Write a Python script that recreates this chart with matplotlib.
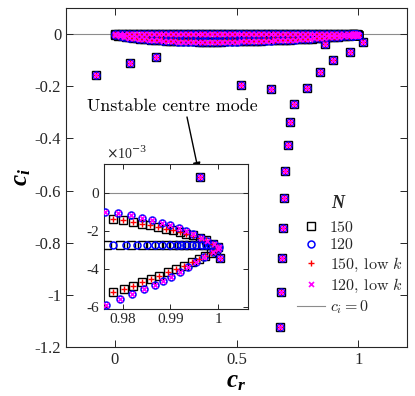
import matplotlib
matplotlib.use('Agg')
import numpy as np
import matplotlib.pyplot as plt
from matplotlib.ticker import FuncFormatter, FixedLocator

plt.rcParams['font.family'] = ['Liberation Serif', 'DejaVu Serif']
plt.rcParams['mathtext.fontset'] = 'cm'
plt.rcParams['mathtext.it'] = 'Liberation Serif:italic:bold'
plt.rcParams['mathtext.rm'] = 'Liberation Serif:bold'
plt.rcParams['mathtext.bf'] = 'Liberation Serif:bold'
plt.rcParams['axes.unicode_minus'] = False

# ---------------- data ----------------
# discrete modes (all four computations coincide)
disc_cr = [-0.076, 0.062, 0.169, 0.520, 0.643, 0.790, 0.737, 0.719, 0.710, 0.700,
           0.696, 0.690, 0.686, 0.682, 0.679, 0.844, 0.898, 0.966, 1.019, 0.864,
           0.9961, 1.0003]
disc_ci = [-0.156, -0.111, -0.088, -0.194, -0.211, -0.207, -0.267, -0.339, -0.425, -0.524,
           -0.630, -0.742, -0.860, -0.989, -1.124, -0.147, -0.101, -0.067, -0.029, -0.039,
           0.00084, -0.00345]

# continuous spectrum, N = 150
band150_cr = [0.000, 0.015, 0.030, 0.045, 0.060, 0.075, 0.090, 0.105, 0.120, 0.135,
              0.150, 0.165, 0.180, 0.195, 0.210, 0.225, 0.240, 0.255, 0.270, 0.285,
              0.300, 0.315, 0.330, 0.345, 0.360, 0.375, 0.390, 0.405, 0.420, 0.435,
              0.450, 0.465, 0.480, 0.495, 0.510, 0.525, 0.540, 0.555, 0.570, 0.585,
              0.600, 0.615, 0.630, 0.645, 0.660, 0.675, 0.690, 0.705, 0.720, 0.735,
              0.750, 0.765, 0.780, 0.795, 0.810, 0.825, 0.840, 0.855, 0.870, 0.885,
              0.900, 0.915, 0.930, 0.945, 0.960]
bandup150_ci = [-0.0004, -0.0004, -0.0004, -0.0005, -0.0005, -0.0005, -0.0005, -0.0006, -0.0006, -0.0006,
                -0.0006, -0.0006, -0.0007, -0.0007, -0.0007, -0.0007, -0.0007, -0.0007, -0.0008, -0.0008,
                -0.0008, -0.0008, -0.0008, -0.0008, -0.0008, -0.0009, -0.0009, -0.0009, -0.0009, -0.0009,
                -0.0009, -0.0009, -0.0010, -0.0010, -0.0010, -0.0010, -0.0010, -0.0010, -0.0010, -0.0010,
                -0.0011, -0.0011, -0.0011, -0.0011, -0.0011, -0.0011, -0.0011, -0.0011, -0.0012, -0.0012,
                -0.0012, -0.0012, -0.0012, -0.0012, -0.0012, -0.0012, -0.0012, -0.0013, -0.0013, -0.0013,
                -0.0013, -0.0013, -0.0013, -0.0013, -0.0013]
bandlo150_ci = [-0.0030, -0.0055, -0.0080, -0.0100, -0.0120, -0.0140, -0.0160, -0.0175, -0.0190, -0.0200,
                -0.0210, -0.0220, -0.0230, -0.0240, -0.0250, -0.0255, -0.0260, -0.0265, -0.0270, -0.0275,
                -0.0280, -0.0280, -0.0280, -0.0285, -0.0290, -0.0290, -0.0290, -0.0290, -0.0290, -0.0285,
                -0.0280, -0.0280, -0.0280, -0.0275, -0.0270, -0.0270, -0.0270, -0.0265, -0.0260, -0.0255,
                -0.0250, -0.0245, -0.0240, -0.0235, -0.0230, -0.0225, -0.0220, -0.0215, -0.0210, -0.0205,
                -0.0200, -0.0195, -0.0190, -0.0180, -0.0170, -0.0160, -0.0150, -0.0140, -0.0130, -0.0120,
                -0.0110, -0.0100, -0.0090, -0.0080, -0.0070]
near_up150_cr = [0.9780, 0.9801, 0.9821, 0.9840, 0.9857, 0.9874, 0.9890, 0.9905, 0.9919, 0.9933,
                 0.9947, 0.9961, 0.9975, 0.9989, 0.9999]
near_up150_ci = [-0.00137, -0.00146, -0.00155, -0.00163, -0.00172, -0.00181, -0.00190, -0.00199,
                 -0.00208, -0.00216, -0.00225, -0.00238, -0.00252, -0.00269, -0.00284]
near_lo150_cr = [0.9780, 0.9802, 0.9821, 0.9841, 0.9860, 0.9877, 0.9895, 0.9911, 0.9928, 0.9945,
                 0.9960, 0.9973, 0.9985, 0.9996]
near_lo150_ci = [-0.00521, -0.00508, -0.00491, -0.00473, -0.00455, -0.00438, -0.00420, -0.00403,
                 -0.00386, -0.00368, -0.00350, -0.00333, -0.00317, -0.00303]
mid150_cr = [0.15, 0.20, 0.25, 0.30, 0.35, 0.40, 0.45, 0.50, 0.55, 0.60, 0.65, 0.70, 0.75,
             0.80, 0.85, 0.90, 0.95,
             0.9767, 0.9794, 0.9818, 0.9840, 0.9859, 0.9876, 0.9891, 0.9906, 0.9918, 0.9928,
             0.9939, 0.9949, 0.9959, 0.9969, 0.9978, 0.9986]
mid150_ci = [-0.0028, -0.0028, -0.0028, -0.0028, -0.0028, -0.0028, -0.0028, -0.0028, -0.0028,
             -0.0028, -0.0028, -0.0028, -0.0028, -0.0028, -0.0028, -0.0028, -0.0028,
             -0.00278, -0.00278, -0.00278, -0.00278, -0.00278, -0.00278, -0.00278, -0.00278,
             -0.00278, -0.00278, -0.00278, -0.00278, -0.00278, -0.00278, -0.00278, -0.00278]

# continuous spectrum, N = 120
band120_cr = [0.00, 0.02, 0.04, 0.06, 0.08, 0.10, 0.12, 0.14, 0.16, 0.18,
              0.20, 0.22, 0.24, 0.26, 0.28, 0.30, 0.32, 0.34, 0.36, 0.38,
              0.40, 0.42, 0.44, 0.46, 0.48, 0.50, 0.52, 0.54, 0.56, 0.58,
              0.60, 0.62, 0.64, 0.66, 0.68, 0.70, 0.72, 0.74, 0.76, 0.78,
              0.80, 0.82, 0.84, 0.86, 0.88, 0.90, 0.92, 0.94, 0.96]
bandup120_ci = [-0.0004, -0.0004, -0.0005, -0.0005, -0.0006, -0.0006, -0.0006, -0.0007, -0.0007, -0.0007,
                -0.0007, -0.0008, -0.0008, -0.0008, -0.0008, -0.0008, -0.0009, -0.0009, -0.0009, -0.0009,
                -0.0009, -0.0009, -0.0009, -0.0010, -0.0010, -0.0010, -0.0010, -0.0010, -0.0010, -0.0010,
                -0.0010, -0.0010, -0.0010, -0.0010, -0.0010, -0.0010, -0.0010, -0.0010, -0.0010, -0.0010,
                -0.0010, -0.0010, -0.0010, -0.0010, -0.0010, -0.0010, -0.0010, -0.0010, -0.0010]
bandlo120_ci = [-0.0040, -0.0080, -0.0110, -0.0140, -0.0160, -0.0180, -0.0200, -0.0215, -0.0230, -0.0245,
                -0.0260, -0.0270, -0.0280, -0.0285, -0.0290, -0.0295, -0.0300, -0.0300, -0.0300, -0.0300,
                -0.0300, -0.0295, -0.0290, -0.0290, -0.0290, -0.0285, -0.0280, -0.0275, -0.0270, -0.0265,
                -0.0260, -0.0255, -0.0250, -0.0240, -0.0230, -0.0225, -0.0220, -0.0210, -0.0200, -0.0190,
                -0.0180, -0.0165, -0.0150, -0.0135, -0.0120, -0.0110, -0.0100, -0.0085, -0.0070]
near_up120_cr = [0.9763, 0.9791, 0.9817, 0.9841, 0.9862, 0.9882, 0.9899, 0.9917, 0.9932, 0.9948,
                 0.9964, 0.9977, 0.9991, 1.0001]
near_up120_ci = [-0.00102, -0.00110, -0.00119, -0.00132, -0.00146, -0.00158, -0.00172, -0.00187,
                 -0.00203, -0.00220, -0.00238, -0.00256, -0.00273, -0.00284]
near_lo120_cr = [0.9765, 0.9794, 0.9819, 0.9844, 0.9867, 0.9885, 0.9902, 0.9919, 0.9937, 0.9954,
                 0.9971, 0.9989, 0.9999]
near_lo120_ci = [-0.00592, -0.00561, -0.00535, -0.00508, -0.00485, -0.00464, -0.00443, -0.00420,
                 -0.00394, -0.00367, -0.00341, -0.00314, -0.00296]
mid120_cr = [0.17, 0.22, 0.27, 0.32, 0.37, 0.42, 0.47, 0.52, 0.57, 0.62, 0.67, 0.72, 0.77,
             0.82, 0.87, 0.92,
             0.9779, 0.9808, 0.9829, 0.9850, 0.9867, 0.9883, 0.9899, 0.9913, 0.9923, 0.9933,
             0.9944, 0.9954, 0.9965, 0.9974, 0.9982]
mid120_ci = [-0.0028, -0.0028, -0.0028, -0.0028, -0.0028, -0.0028, -0.0028, -0.0028, -0.0028,
             -0.0028, -0.0028, -0.0028, -0.0028, -0.0028, -0.0028, -0.0028,
             -0.00278, -0.00278, -0.00278, -0.00278, -0.00278, -0.00278, -0.00278, -0.00278,
             -0.00278, -0.00278, -0.00278, -0.00278, -0.00278, -0.00278, -0.00278]

ref_ci = 0.0
series_labels = ['150', '120', '150, low $k$', '120, low $k$']
line_label = '$c_i = 0$'
legend_title = '$N$'
main_xticks = [0, 0.5, 1]
main_yticks = [-1.2, -1, -0.8, -0.6, -0.4, -0.2, 0]
inset_xticks = [0.98, 0.99, 1.0]
inset_yticks = [-0.006, -0.004, -0.002, 0.0]

# ---------------- series assembly ----------------
up150_cr = band150_cr + near_up150_cr
up150_ci = bandup150_ci + near_up150_ci
lo150_cr = band150_cr + near_lo150_cr
lo150_ci = bandlo150_ci + near_lo150_ci
up120_cr = band120_cr + near_up120_cr
up120_ci = bandup120_ci + near_up120_ci
lo120_cr = band120_cr + near_lo120_cr
lo120_ci = bandlo120_ci + near_lo120_ci

s150_cr = disc_cr + up150_cr + lo150_cr + mid150_cr
s150_ci = disc_ci + up150_ci + lo150_ci + mid150_ci
s120_cr = disc_cr + up120_cr + lo120_cr + mid120_cr
s120_ci = disc_ci + up120_ci + lo120_ci + mid120_ci
k150_cr = disc_cr + up150_cr + lo150_cr
k150_ci = disc_ci + up150_ci + lo150_ci
k120_cr = disc_cr + up120_cr + lo120_cr
k120_ci = disc_ci + up120_ci + lo120_ci

styles = [
    dict(marker='s', mfc='none', mec='black', ms=5.8, mew=1.0),
    dict(marker='o', mfc='none', mec='#0000ff', ms=5.0, mew=1.1),
    dict(marker='+', color='#ff0000', mec='#ff0000', ms=4.8, mew=1.0),
    dict(marker='x', color='#ff00ff', mec='#ff00ff', ms=3.6, mew=1.2),
]
data = [(s150_cr, s150_ci), (s120_cr, s120_ci), (k150_cr, k150_ci), (k120_cr, k120_ci)]

fig = plt.figure(figsize=(4.15, 3.96), dpi=100)
W, H = 415.0, 396.0
ax = fig.add_axes([66 / W, 1 - 347 / H, (407 - 66) / W, (347 - 8) / H])
axi = fig.add_axes([103.5 / W, 1 - 308.5 / H, (247.5 - 103.5) / W, (308.5 - 164) / H])

frame_col = '#262626'
handles = []
for a in (ax, axi):
    ln0 = a.axhline(ref_ci, color='#8c8c8c', lw=0.8, zorder=1)
    hs = []
    for (x, y), st, lab in zip(data, styles, series_labels):
        h, = a.plot(x, y, linestyle='none', label=lab, zorder=3, **st)
        hs.append(h)
    if a is ax:
        handles = hs + [ln0]
    for sp in a.spines.values():
        sp.set_color(frame_col)
        sp.set_linewidth(0.8)
    a.tick_params(direction='in', top=True, right=True, length=4, width=0.7,
                  colors=frame_col, labelcolor=frame_col)

fmt = FuncFormatter(lambda v, p: '%g' % round(v, 6))
ax.set_xlim(-0.2, 1.2)
ax.set_ylim(-1.2, 0.1)
ax.xaxis.set_major_locator(FixedLocator(main_xticks))
ax.yaxis.set_major_locator(FixedLocator(main_yticks))
ax.xaxis.set_major_formatter(fmt)
ax.yaxis.set_major_formatter(fmt)
ax.tick_params(labelsize=12, length=5)

axi.set_xlim(0.976, 1.0061)
axi.set_ylim(-0.0061, 0.0015)
axi.xaxis.set_major_locator(FixedLocator(inset_xticks))
axi.yaxis.set_major_locator(FixedLocator(inset_yticks))
axi.xaxis.set_major_formatter(fmt)
axi.yaxis.set_major_formatter(FuncFormatter(lambda v, p: '%g' % round(v * 1e3, 6)))
axi.tick_params(labelsize=11, length=3.5, pad=3)
fig.text(106 / W, 1 - 153 / H, r'$\times$10$^{-3}$', fontsize=10, color=frame_col,
         ha='left', va='center', math_fontfamily='dejavuserif')

ax.set_xlabel('$c_r$', fontsize=18, math_fontfamily='custom', labelpad=2)
ax.set_ylabel('$c_i$', fontsize=18, math_fontfamily='custom', labelpad=1)

leg = ax.legend(handles, series_labels + [line_label], loc='upper left',
                bbox_to_anchor=(297 / W, 1 - 220.5 / H), bbox_transform=fig.transFigure,
                frameon=False, borderpad=0, borderaxespad=0, handlelength=1.75,
                handletextpad=0.3, labelspacing=0.21,
                prop={'family': 'cmr10', 'size': 11.5})
for t in leg.get_texts():
    t.set_color(frame_col)
fig.text(339 / W, 1 - 203 / H, legend_title, fontsize=13, math_fontfamily='custom',
         ha='center', va='center', color=frame_col)

# annotation
fig.text(87 / W, 1 - 106 / H, 'Unstable centre mode', family='cmr10', fontsize=12.9,
         ha='left', va='center', color='black')
ax.annotate('', xy=(disc_cr[20], disc_ci[20]), xycoords=axi.transData,
            xytext=(187 / W, 1 - 117 / H), textcoords='figure fraction',
            arrowprops=dict(arrowstyle='-|>,head_length=0.5,head_width=0.22', color='black',
                            lw=1.0, shrinkA=0, shrinkB=4))

fig.savefig('out.png', dpi=100)
